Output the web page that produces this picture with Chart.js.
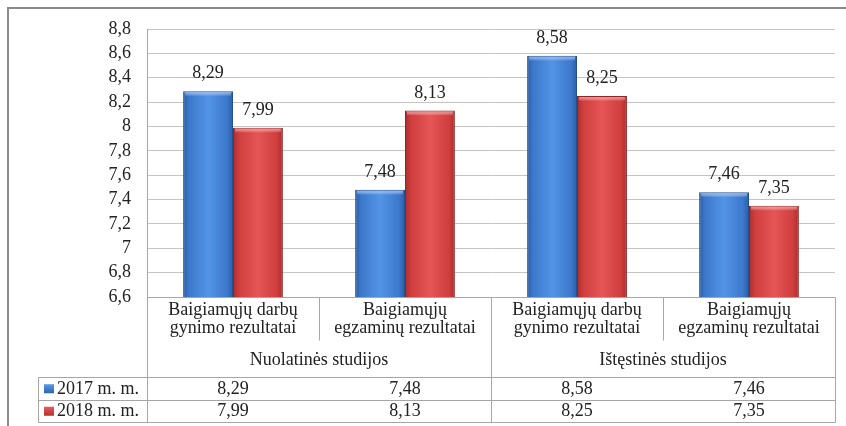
<!DOCTYPE html>
<html>
<head>
<meta charset="utf-8">
<script src="https://cdn.jsdelivr.net/npm/chart.js@4"></script>
<style>
  html, body { margin: 0; padding: 0; background: #fff; }
  #wrap { width: 846px; height: 426px; }
</style>
</head>
<body>
<div id="wrap"><canvas id="c" width="846" height="426"></canvas></div>
<script>
// ── Data ──
var categories = [
  ['Baigiamųjų darbų', 'gynimo rezultatai'],
  ['Baigiamųjų', 'egzaminų rezultatai'],
  ['Baigiamųjų darbų', 'gynimo rezultatai'],
  ['Baigiamųjų', 'egzaminų rezultatai']
];
var groups = ['Nuolatinės studijos', 'Ištęstinės studijos'];
var seriesNames = ['2017 m. m.', '2018 m. m.'];
var values2017 = [8.29, 7.48, 8.58, 7.46];
var values2018 = [7.99, 8.13, 8.25, 7.35];
var yTicks = [6.6, 6.8, 7, 7.2, 7.4, 7.6, 7.8, 8, 8.2, 8.4, 8.6, 8.8];

var SERIF = "'Liberation Serif'";
var BLUE = { light: '#5394e6', mid: '#3c78cb', dark: '#2b5ea4', edge: '#24508e', top: '#7fb0ee' };
var RED = { light: '#e65656', mid: '#d03e3e', dark: '#a82e2e', edge: '#8e2424', top: '#ee8484' };
var PALETTE = [BLUE, RED];
var CAT_PCT = 0.58;

Chart.defaults.font.family = SERIF;

function comma(v) { return String(v).replace('.', ','); }
function fmt2(v) { return v.toFixed(2).replace('.', ','); }

// ── bevel-ish gradient per bar, located through the x scale ──
function barFill(ctx) {
  var chart = ctx.chart;
  var c = PALETTE[ctx.datasetIndex];
  var xs = chart.scales.x;
  var a = chart.chartArea;
  if (!xs || !a || ctx.dataIndex === undefined) return c.mid;
  var cw = (a.right - a.left) / categories.length;
  var bw = cw * CAT_PCT / 2;
  var cx = xs.getPixelForValue(ctx.dataIndex) + (ctx.datasetIndex - 0.5) * bw;
  if (!isFinite(cx) || !isFinite(bw)) return c.mid;
  var g = chart.ctx.createLinearGradient(cx - bw / 2, 0, cx + bw / 2, 0);
  g.addColorStop(0, c.dark);
  g.addColorStop(0.12, c.mid);
  g.addColorStop(0.5, c.light);
  g.addColorStop(0.88, c.mid);
  g.addColorStop(1, c.dark);
  return g;
}

// ── top bevel strip + value labels above bars ──
var valueLabels = {
  id: 'valueLabels',
  afterDatasetsDraw: function(chart) {
    var ctx = chart.ctx;
    ctx.save();
    chart.data.datasets.forEach(function(ds, di) {
      var c = PALETTE[di];
      chart.getDatasetMeta(di).data.forEach(function(bar) {
        var half = bar.width / 2;
        var g = ctx.createLinearGradient(0, bar.y, 0, bar.y + 5);
        g.addColorStop(0, c.top);
        g.addColorStop(1, 'rgba(255,255,255,0)');
        ctx.fillStyle = g;
        ctx.fillRect(bar.x - half + 2, bar.y + 1, bar.width - 4, 5);
      });
    });
    ctx.font = '18px ' + SERIF;
    ctx.fillStyle = '#222';
    ctx.textAlign = 'center';
    ctx.textBaseline = 'alphabetic';
    chart.data.datasets.forEach(function(ds, di) {
      chart.getDatasetMeta(di).data.forEach(function(bar, i) {
        ctx.fillText(fmt2(ds.data[i]), bar.x, bar.y - 13);
      });
    });
    ctx.restore();
  }
};

// ── category axis + data table below the plot ──
var dataTable = {
  id: 'dataTable',
  afterDraw: function(chart) {
    var ctx = chart.ctx;
    var a = chart.chartArea;
    var x = chart.scales.x;
    var n = categories.length;
    var cw = (a.right - a.left) / n;
    var edges = [];
    for (var i = 0; i <= n; i++) edges.push(a.left + i * cw);

    var yAxis = a.bottom;
    var yCatEnd = yAxis + 43;
    var yTab = yAxis + 80;
    var rowH = 22.5;
    var legLeft = 38;

    ctx.save();
    ctx.strokeStyle = '#a6a6a6';
    ctx.lineWidth = 1;
    function line(x1, y1, x2, y2) {
      ctx.beginPath();
      ctx.moveTo(Math.round(x1) + 0.5, Math.round(y1) + 0.5);
      ctx.lineTo(Math.round(x2) + 0.5, Math.round(y2) + 0.5);
      ctx.stroke();
    }
    // axis line and table rules
    line(a.left, yAxis, a.right, yAxis);
    line(legLeft, yTab, a.right, yTab);
    line(legLeft, yTab + rowH, a.right, yTab + rowH);
    line(legLeft, yTab + 2 * rowH, a.right, yTab + 2 * rowH);
    line(legLeft, yTab, legLeft, yTab + 2 * rowH);
    line(a.left, yAxis, a.left, yTab + 2 * rowH);
    line(a.right, yAxis, a.right, yTab + 2 * rowH);
    line(edges[2], yAxis, edges[2], yTab + 2 * rowH);
    line(edges[1], yAxis, edges[1], yCatEnd);
    line(edges[3], yAxis, edges[3], yCatEnd);

    ctx.fillStyle = '#222';
    ctx.textAlign = 'center';
    ctx.textBaseline = 'middle';
    ctx.font = '18px ' + SERIF;
    categories.forEach(function(lbl, i) {
      var cx = x.getPixelForValue(i);
      ctx.fillText(lbl[0], cx, yAxis + 13);
      ctx.fillText(lbl[1], cx, yAxis + 31);
    });
    groups.forEach(function(g, gi) {
      var cx = (edges[gi * 2] + edges[gi * 2 + 2]) / 2;
      ctx.fillText(g, cx, yAxis + 63);
    });

    var rows = [values2017, values2018];
    rows.forEach(function(vals, r) {
      var cy = yTab + r * rowH + rowH / 2 + 1;
      vals.forEach(function(v, i) {
        ctx.fillText(fmt2(v), x.getPixelForValue(i), cy);
      });
      // legend key
      var g = ctx.createLinearGradient(0, cy - 4, 0, cy + 5);
      g.addColorStop(0, PALETTE[r].light);
      g.addColorStop(1, PALETTE[r].dark);
      ctx.fillStyle = g;
      ctx.fillRect(44, cy - 5, 10, 9);
      ctx.fillStyle = '#222';
      ctx.textAlign = 'left';
      ctx.fillText(seriesNames[r], 57, cy);
      ctx.textAlign = 'center';
    });

    // outer frame
    ctx.strokeStyle = '#8c8c8c';
    ctx.lineWidth = 2;
    ctx.beginPath();
    ctx.moveTo(8, 430);
    ctx.lineTo(8, 8);
    ctx.lineTo(850, 8);
    ctx.stroke();
    ctx.restore();
  }
};

var chart = new Chart(document.getElementById('c'), {
  type: 'bar',
  data: {
    labels: categories.map(function(c) { return c.join(' '); }),
    datasets: [
      {
        label: seriesNames[0],
        data: values2017,
        backgroundColor: barFill,
        borderColor: BLUE.edge,
        borderWidth: 1,
        categoryPercentage: CAT_PCT,
        barPercentage: 1
      },
      {
        label: seriesNames[1],
        data: values2018,
        backgroundColor: barFill,
        borderColor: RED.edge,
        borderWidth: 1,
        categoryPercentage: CAT_PCT,
        barPercentage: 1
      }
    ]
  },
  options: {
    responsive: false,
    animation: false,
    events: [],
    layout: { padding: { left: 0, top: 29, right: 11, bottom: 129 } },
    plugins: {
      legend: { display: false },
      tooltip: { enabled: false }
    },
    scales: {
      x: { display: false },
      y: {
        min: 6.6,
        max: 8.8,
        afterFit: function(scale) { scale.width = 147; },
        afterBuildTicks: function(scale) {
          scale.ticks = yTicks.map(function(v) { return { value: v }; });
        },
        grid: { color: '#c4c4c4', drawTicks: false },
        border: { display: true, color: '#a6a6a6' },
        ticks: {
          autoSkip: false,
          padding: 16,
          color: '#222',
          font: { size: 18, family: SERIF },
          callback: function(v) { return comma(Math.round(v * 10) / 10); }
        }
      }
    }
  },
  plugins: [valueLabels, dataTable]
});
</script>
</body>
</html>
